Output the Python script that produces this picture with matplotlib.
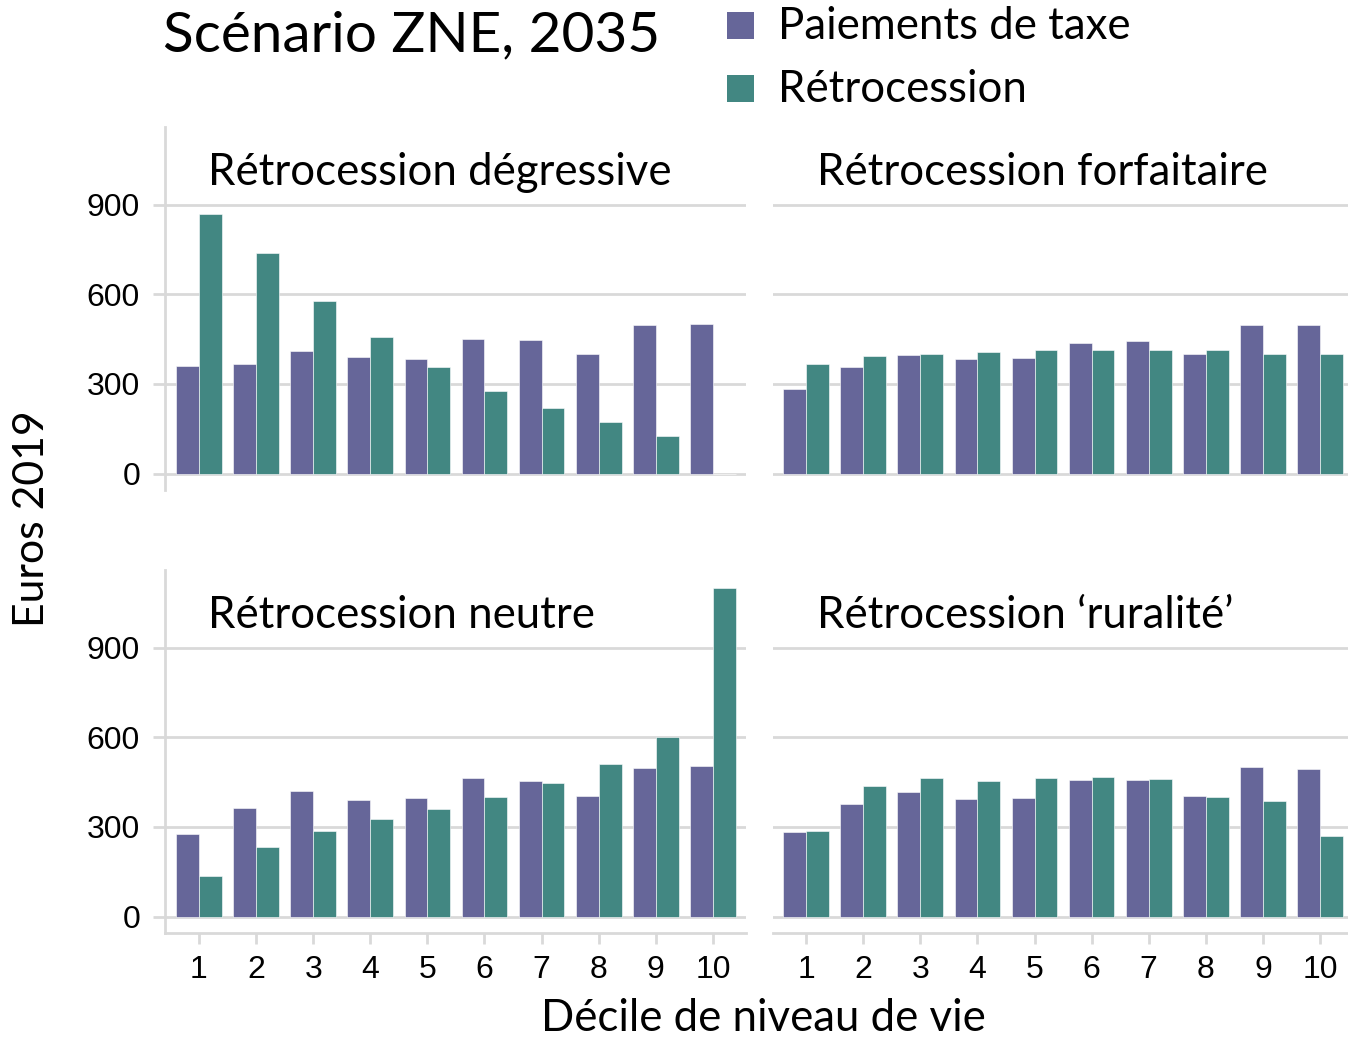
import matplotlib
matplotlib.use("Agg")
import matplotlib.pyplot as plt
from matplotlib.patches import Rectangle
import numpy as np

deciles = [1, 2, 3, 4, 5, 6, 7, 8, 9, 10]
tick_labels = ["1", "2", "3", "4", "5", "6", "7", "8", "9", "10"]
series_names = ["Paiements de taxe", "Rétrocession"]
panel_titles = ["Rétrocession dégressive", "Rétrocession forfaitaire",
                "Rétrocession neutre", "Rétrocession \u2018ruralité\u2019"]

degressive_tax = [361, 368, 410, 389, 383, 451, 446, 401, 498, 501]
degressive_ret = [870, 737, 578, 457, 358, 278, 218, 171, 127, 0]

forfaitaire_tax = [283, 358, 397, 383, 387, 438, 443, 399, 498, 498]
forfaitaire_ret = [366, 393, 401, 407, 412, 412, 412, 414, 401, 401]

neutre_tax = [278, 363, 419, 390, 397, 463, 453, 403, 496, 504]
neutre_ret = [136, 234, 286, 325, 361, 400, 447, 509, 600, 1100]

ruralite_tax = [282, 376, 418, 393, 397, 456, 456, 404, 500, 494]
ruralite_ret = [286, 438, 463, 453, 463, 466, 461, 399, 386, 269]

yticks = [0, 300, 600, 900]

PURPLE = "#666699"
GREEN = "#428782"
GRID = "#d9d9d9"
TITLE_FONT = ["Lato", "DejaVu Sans"]
TICK_FONT = ["Liberation Sans", "DejaVu Sans"]

W, H = 1348, 1038
fig = plt.figure(figsize=(W / 100, H / 100), dpi=100)


def ax_rect(x0, x1, ytop, ybot):
    return [x0 / W, 1 - ybot / H, (x1 - x0) / W, (ybot - ytop) / H]


rects = [ax_rect(165, 746, 127, 490), ax_rect(773, 1348, 127, 490),
         ax_rect(165, 746, 570, 933), ax_rect(773, 1348, 570, 933)]
xlims = [(0.405, 10.58), (0.42, 10.49), (0.405, 10.58), (0.42, 10.49)]
data = [(degressive_tax, degressive_ret), (forfaitaire_tax, forfaitaire_ret),
        (neutre_tax, neutre_ret), (ruralite_tax, ruralite_ret)]

x = np.array(deciles, dtype=float)
for i, (rect, xl, (tax, ret), title) in enumerate(zip(rects, xlims, data, panel_titles)):
    ax = fig.add_axes(rect)
    ax.bar(x - 0.2, tax, width=0.4, color=PURPLE, edgecolor="white", linewidth=0.4, zorder=3)
    ax.bar(x + 0.2, ret, width=0.4, color=GREEN, edgecolor="white", linewidth=0.4, zorder=3)
    ax.set_xlim(*xl)
    ax.set_ylim(-55, 1160)
    ax.set_yticks(yticks)
    ax.yaxis.grid(True, color=GRID, linewidth=2.0, zorder=0)
    ax.set_axisbelow(True)
    for s in ax.spines.values():
        s.set_visible(False)
    left = i in (0, 2)
    bottom = i in (2, 3)
    if left:
        ax.spines["left"].set_visible(True)
        ax.spines["left"].set_color(GRID)
        ax.spines["left"].set_linewidth(2.0)
        ax.tick_params(axis="y", length=9, width=2.0, color=GRID, pad=9,
                       labelsize=23, labelcolor="black")
        ax.set_yticklabels([str(v) for v in yticks], family=TICK_FONT)
    else:
        ax.tick_params(axis="y", left=False, labelleft=False)
    if bottom:
        ax.spines["bottom"].set_visible(True)
        ax.spines["bottom"].set_color(GRID)
        ax.spines["bottom"].set_linewidth(2.0)
        ax.set_xticks(deciles)
        ax.set_xticklabels(tick_labels, family=TICK_FONT)
        ax.tick_params(axis="x", length=8, width=2.0, color=GRID, pad=8,
                       labelsize=23, labelcolor="black")
    else:
        ax.tick_params(axis="x", bottom=False, labelbottom=False)
    ax.text(0.074 if left else 0.0765, 0.84, title, transform=ax.transAxes,
            ha="left", va="baseline", fontsize=31.5, family=TITLE_FONT)


def ftext(px, py, s, **kw):
    fig.text(px / W, 1 - py / H, s, **kw)


ftext(163, 51, "Scénario ZNE, 2035", ha="left", va="baseline", fontsize=40.8, family=TITLE_FONT)
ftext(763, 1031, "Décile de niveau de vie", ha="center", va="baseline", fontsize=31.5, family=TITLE_FONT)
ftext(32, 519, "Euros 2019", ha="center", va="center", rotation=90, fontsize=30.8, family=TITLE_FONT)

for (sy, ly), name, col in zip([(12, 39), (75, 102)], series_names, [PURPLE, GREEN]):
    fig.add_artist(Rectangle((727 / W, 1 - (sy + 27) / H), 27 / W, 27 / H,
                             transform=fig.transFigure, facecolor=col, edgecolor="none"))
    ftext(778, ly, name, ha="left", va="baseline", fontsize=31.5, family=TITLE_FONT)

fig.savefig("out.png", dpi=100)
